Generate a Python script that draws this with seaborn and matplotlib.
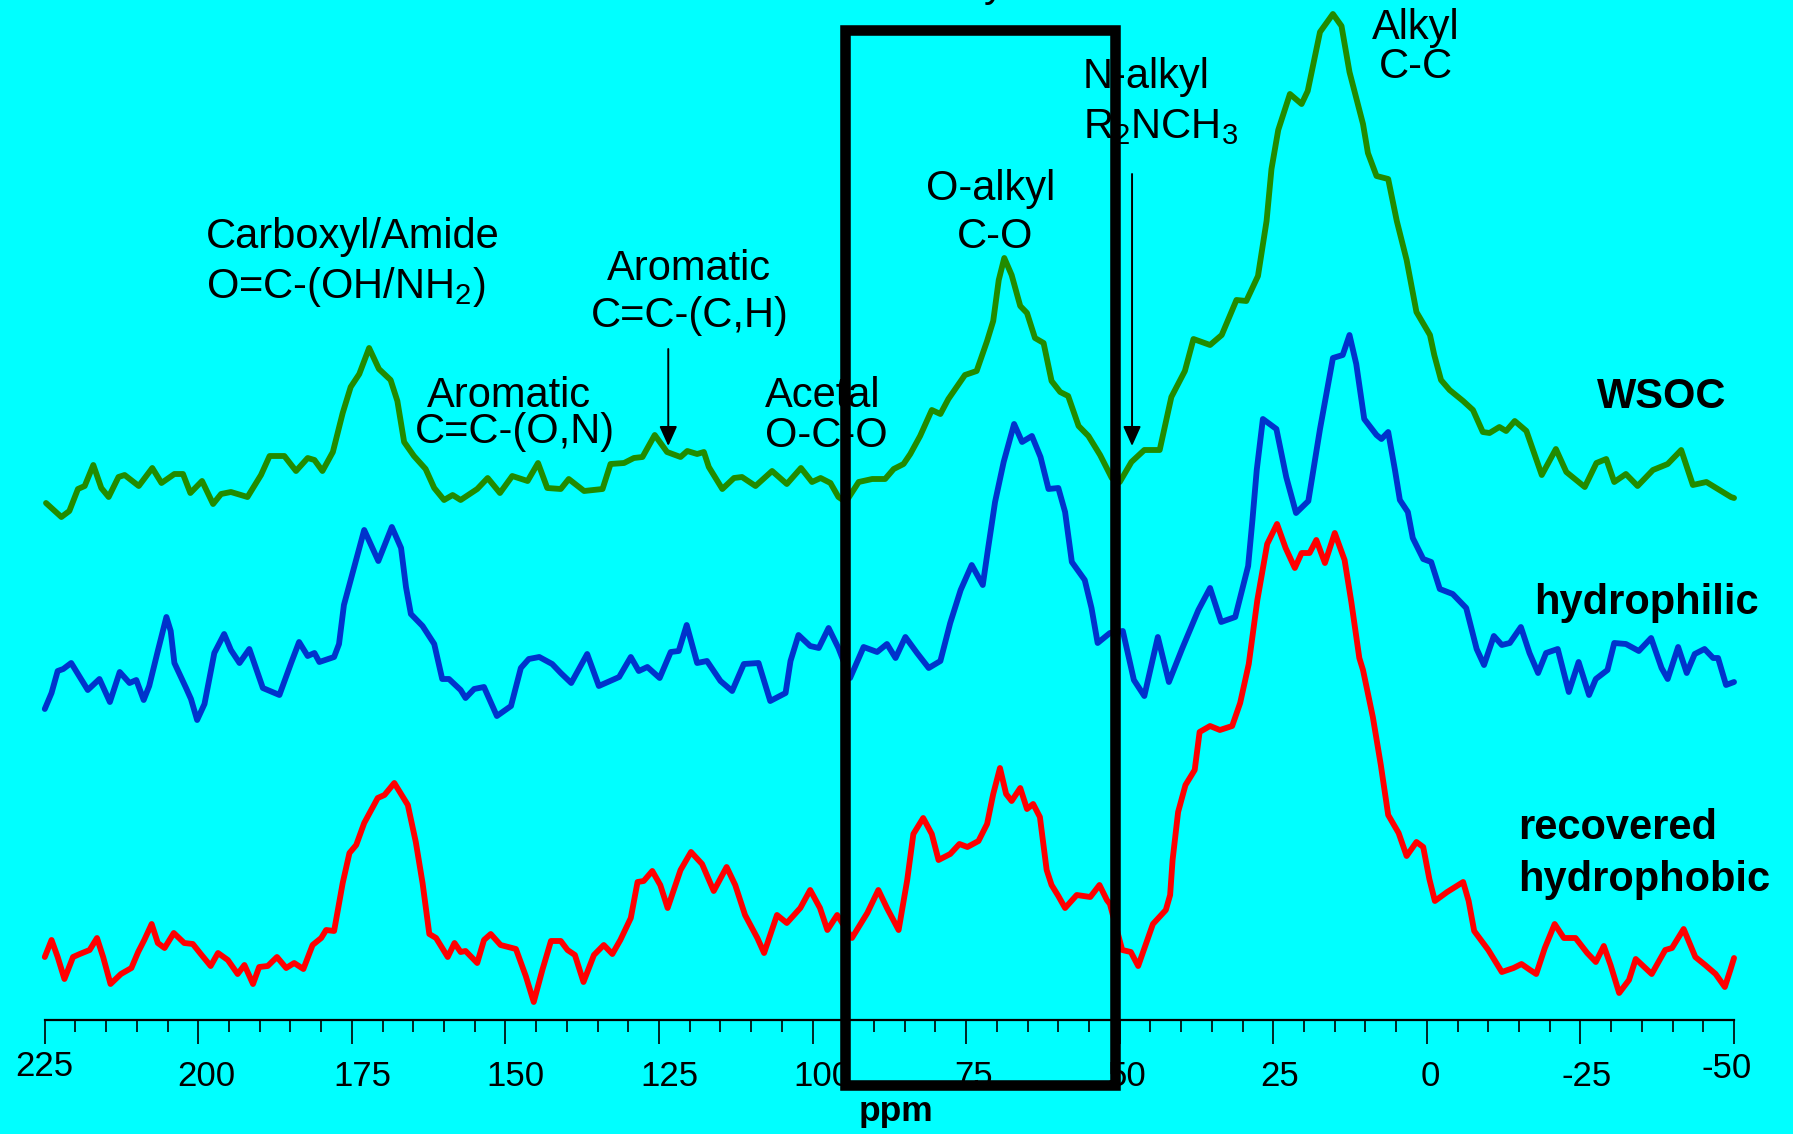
import numpy as np
import pandas as pd
import matplotlib
matplotlib.use("Agg")
import matplotlib.pyplot as plt
from matplotlib.patches import Rectangle
from matplotlib.transforms import ScaledTranslation
import seaborn as sns

# ---------------- data (ppm, displayed intensity incl. stacking offset) -------------
wsoc_ppm = [224.8, 222.3, 221.0, 219.6, 218.5, 217.1, 215.8, 214.6, 213.0, 212.0, 209.7, 207.5, 206.0,
            203.9, 202.5, 201.3, 199.4, 197.6, 196.3, 194.7, 192.0, 189.8, 188.4, 186.0, 184.1, 182.2,
            181.1, 179.8, 178.1, 176.5, 175.2, 173.8, 172.2, 170.6, 168.7, 167.6, 166.5, 164.9, 163.0,
            161.6, 160.0, 158.6, 157.3, 154.6, 152.9, 150.9, 148.9, 146.4, 144.7, 143.2, 141.0, 139.7,
            137.2, 134.2, 132.9, 130.7, 129.1, 127.7, 125.7, 123.7, 121.5, 120.4, 118.8, 117.7, 116.9,
            114.7, 112.8, 111.5, 109.3, 106.6, 104.2, 101.9, 100.1, 98.7, 97.1, 95.8, 94.6, 92.5, 90.3,
            88.2, 86.8, 85.2, 84.1, 82.5, 80.6, 79.2, 77.9, 76.2, 75.2, 73.3, 71.6, 70.6, 69.7, 68.8,
            67.6, 66.2, 65.1, 63.8, 62.4, 61.1, 59.7, 58.4, 56.7, 55.1, 53.2, 51.3, 50.0, 48.1, 46.0,
            43.5, 41.6, 39.4, 38.0, 35.3, 33.4, 31.0, 29.4, 27.5, 26.1, 25.3, 24.2, 22.3, 20.4, 19.4,
            17.4, 15.3, 13.9, 12.6, 10.4, 9.6, 8.2, 6.3, 4.9, 3.3, 1.7, -0.5, -1.2, -2.3, -3.7, -5.9,
            -7.5, -9.1, -10.2, -11.8, -12.9, -14.3, -16.2, -18.7, -21.0, -22.7, -25.7, -27.6, -29.2,
            -30.5, -32.4, -34.3, -36.8, -39.2, -41.4, -43.3, -45.5, -47.1, -49.5, -50.0]
wsoc_val = [517, 503, 509, 531, 534, 555, 532, 523, 543, 545, 534, 552, 537,
            546, 546, 527, 539, 516, 526, 528, 523, 545, 564, 564, 549, 562,
            560, 549, 568, 607, 633, 646, 672, 651, 640, 619, 578, 564, 551,
            532, 520, 525, 520, 531, 542, 527, 544, 539, 557, 532, 531, 541,
            529, 531, 556, 557, 562, 563, 585, 568, 563, 569, 566, 568, 553,
            531, 542, 543, 534, 549, 536, 552, 538, 542, 537, 523, 518, 538, 541,
            541, 551, 556, 566, 584, 610, 606, 621, 636, 645, 649, 679, 699, 740, 762,
            745, 714, 707, 682, 677, 639, 628, 624, 594, 584, 565, 542, 538, 558, 570,
            570, 623, 649, 681, 675, 685, 720, 719, 744, 799, 851, 890, 926, 916, 929,
            988, 1006, 994, 948, 896, 867, 844, 841, 799, 760, 708, 685, 665, 640, 630, 619,
            610, 588, 587, 593, 589, 599, 589, 545, 571, 548, 533, 557, 561,
            538, 546, 534, 550, 556, 570, 535, 538, 532, 523, 522]

hphil_ppm = [225.0, 223.9, 222.9, 222.0, 220.7, 219.1, 218.0, 216.1, 214.4, 212.8, 211.2, 210.1, 208.9,
             208.0, 206.6, 205.2, 204.5, 203.9, 202.0, 201.2, 200.2, 199.0, 197.4, 195.8, 194.7, 193.3,
             191.7, 189.5, 186.8, 184.9, 183.6, 182.2, 181.1, 180.3, 177.9, 177.1, 176.3, 175.2, 173.0,
             170.7, 168.5, 167.0, 166.2, 165.4, 163.5, 161.6, 160.3, 159.2, 157.3, 156.5, 155.1, 153.5,
             151.4, 149.1, 147.5, 146.2, 144.5, 142.4, 141.0, 139.3, 136.7, 134.8, 131.5, 129.6, 128.3,
             126.9, 124.9, 123.1, 121.8, 120.5, 118.8, 117.2, 115.0, 113.1, 111.2, 108.8, 106.9, 104.4,
             103.6, 102.3, 100.4, 99.0, 97.4, 95.8, 93.9, 91.7, 89.5, 87.9, 86.5, 84.9, 83.0, 81.1, 79.2,
             77.6, 75.9, 74.1, 72.3, 71.4, 70.3, 68.9, 67.2, 65.9, 64.3, 62.9, 61.6, 60.0, 58.9, 57.8,
             55.7, 54.6, 53.6, 51.6, 49.5, 47.7, 46.0, 43.8, 42.0, 39.8, 37.2, 35.3, 33.5, 31.2, 29.1,
             28.4, 27.7, 26.7, 24.5, 22.9, 21.3, 19.3, 17.4, 15.3, 13.7, 12.6, 11.5, 10.2, 8.2, 7.4, 6.3,
             5.2, 4.4, 3.1, 2.3, 0.6, -0.7, -2.1, -4.2, -6.4, -8.1, -9.3, -10.9, -12.2, -13.5, -15.3,
             -16.7, -18.1, -19.4, -21.3, -23.1, -24.7, -26.4, -27.5, -29.4, -30.5, -32.4, -34.5, -36.5,
             -38.2, -39.2, -40.9, -42.3, -43.6, -45.2, -46.6, -47.4, -48.7, -50.0]
hphil_val = [311, 327, 349, 351, 357, 341, 330, 341, 318, 348, 337, 340, 320,
             334, 369, 403, 389, 357, 332, 321, 300, 316, 367, 386, 370, 357,
             371, 332, 325, 357, 378, 364, 367, 358, 363, 376, 415, 440, 490,
             459, 493, 472, 433, 406, 394, 376, 341, 341, 330, 322, 331, 333,
             304, 314, 352, 361, 363, 356, 347, 337, 366, 334, 343, 363, 349,
             353, 342, 368, 369, 395, 357, 359, 339, 329, 356, 357, 319, 327,
             359, 385, 374, 372, 392, 372, 342, 373, 368, 376, 362, 383, 367, 352, 359,
             397, 430, 455, 435, 473, 518, 558, 596, 578, 584, 563, 531, 532, 508, 458,
             440, 412, 377, 387, 389, 340, 324, 383, 338, 372, 410, 432, 398, 403, 454,
             500, 550, 601, 591, 543, 507, 519, 591, 662, 665, 685, 656, 601, 585, 581, 588,
             550, 520, 508, 482, 461, 458, 431, 426, 412, 371, 355, 384, 375, 377, 393,
             367, 347, 367, 371, 328, 358, 325, 341, 350, 377, 376, 369, 382,
             352, 341, 373, 347, 366, 371, 362, 362, 335, 338]

hphob_ppm = [225.0, 223.9, 222.9, 221.8, 220.4, 219.3, 217.7, 216.5, 215.5, 214.3, 212.6, 210.9, 209.8,
             208.8, 207.6, 206.6, 205.5, 204.0, 202.3, 200.9, 199.6, 198.0, 196.8, 195.2, 193.6, 192.5,
             191.1, 190.1, 188.7, 187.2, 185.7, 184.4, 182.9, 181.4, 180.0, 179.2, 177.9, 176.5, 175.4,
             174.3, 173.0, 170.8, 169.7, 168.1, 165.9, 164.6, 163.5, 162.4, 161.3, 159.4, 158.3, 157.3,
             156.5, 154.6, 153.5, 152.4, 150.8, 148.3, 146.7, 145.4, 144.0, 142.6, 141.0, 139.9, 138.7,
             137.3, 135.6, 134.0, 132.6, 131.3, 129.6, 128.5, 127.5, 126.1, 124.8, 123.6, 121.5, 119.8,
             118.0, 116.1, 114.0, 112.6, 111.0, 109.0, 107.9, 105.8, 104.2, 102.0, 100.4, 98.8, 97.6,
             96.0, 93.6, 91.1, 89.3, 87.9, 86.0, 84.6, 83.6, 82.0, 80.6, 79.5, 77.6, 76.1, 74.8, 73.0,
             71.6, 70.6, 69.5, 68.5, 67.6, 66.2, 65.1, 64.1, 63.0, 61.9, 61.1, 60.0, 58.9, 57.0, 54.8,
             53.3, 52.1, 51.6, 49.6, 48.2, 47.0, 44.6, 42.5, 41.8, 41.4, 40.5, 39.3, 37.8, 37.0, 35.3,
             33.7, 31.7, 30.4, 29.0, 27.6, 26.0, 24.4, 23.0, 21.5, 20.4, 19.1, 18.0, 16.6, 15.0, 13.4,
             12.3, 11.0, 10.4, 8.8, 7.5, 6.3, 4.6, 3.3, 1.7, 0.6, -0.4, -1.3, -3.3, -5.9, -6.8, -7.7,
             -10.0, -12.2, -14.1, -15.4, -16.8, -17.8, -19.2, -20.8, -22.3, -24.2, -26.1, -27.5, -28.8,
             -29.9, -31.3, -32.9, -34.0, -36.6, -38.8, -39.9, -41.8, -43.7, -45.3, -47.0, -48.5, -49.4,
             -50.0]
hphob_val = [63, 80, 63, 41, 63, 66, 70, 82, 63, 36, 46, 52, 68,
             80, 96, 77, 72, 87, 77, 76, 66, 54, 67, 60, 46, 55,
             36, 53, 54, 63, 52, 57, 51, 75, 82, 90, 89, 137, 167,
             175, 197, 222, 225, 237, 215, 178, 137, 86, 82, 63, 77, 68,
             69, 57, 80, 86, 75, 71, 44, 18, 50, 79, 79, 70, 65,
             38, 65, 75, 66, 80, 102, 138, 139, 149, 135, 112, 150, 168,
             156, 129, 153, 135, 105, 82, 67, 105, 97, 112, 130, 112, 90,
             105, 82, 107, 130, 112, 90, 140, 186, 202, 186, 160, 166, 176, 173, 179,
             196, 226, 252, 226, 219, 232, 211, 216, 203, 150, 135, 124, 112, 125, 123,
             135, 120, 116, 70, 68, 54, 96, 110, 125, 160, 208, 235, 250, 288, 294,
             290, 294, 317, 356, 420, 476, 496, 472, 452, 467, 467, 480, 457, 487, 460,
             418, 362, 350, 303, 255, 205, 187, 164, 178, 173, 141, 119, 128, 138, 119, 89,
             70, 48, 52, 56, 50, 46, 72, 96, 82, 82, 67, 58, 74,
             55, 27, 40, 61, 46, 70, 72, 91, 63, 55, 46, 33, 50,
             62]

series_names = ["WSOC", "hydrophilic", "recovered\nhydrophobic"]
series_colors = ["#228b00", "#0033cc", "#ff0000"]

tick_values = [225, 200, 175, 150, 125, 100, 75, 50, 25, 0, -25, -50]
tick_labels = ["225", "200", "175", "150", "125", "100", "75", "50", "25", "0", "-25", "-50"]

# region annotations (ppm positions)
box_ppm = (94.8, 50.7)
arrow_ppm = [123.5, 48.0]

# ---------------- styling ----------------
sns.set_theme(style="white")
plt.rcParams["font.family"] = ["Liberation Sans", "DejaVu Sans"]
plt.rcParams["mathtext.fontset"] = "custom"
plt.rcParams["mathtext.rm"] = "Liberation Sans"
plt.rcParams["mathtext.it"] = "Liberation Sans:italic"
plt.rcParams["mathtext.bf"] = "Liberation Sans:bold"
plt.rcParams["mathtext.default"] = "regular"

BG = "#00ffff"
fig = plt.figure(figsize=(17.93, 11.34), dpi=100, facecolor=BG)
ax = fig.add_axes([0, 0, 1, 1], facecolor=BG)

df = pd.concat([
    pd.DataFrame({"ppm": wsoc_ppm, "intensity": wsoc_val, "series": series_names[0]}),
    pd.DataFrame({"ppm": hphil_ppm, "intensity": hphil_val, "series": series_names[1]}),
    pd.DataFrame({"ppm": hphob_ppm, "intensity": hphob_val, "series": series_names[2]}),
])

sns.lineplot(data=df, x="ppm", y="intensity", hue="series", hue_order=series_names,
             palette=series_colors, linewidth=4.2, legend=False, sort=False,
             estimator=None, ax=ax)
for ln in ax.get_lines():
    ln.set_linewidth(4.2)
    ln.set_solid_joinstyle("round")
    ln.set_solid_capstyle("round")

ax.set_xlim(232.29, -59.6)
ax.set_ylim(-114, 1020)
ax.set_ylabel("")

# axis
for s in ["left", "right", "top"]:
    ax.spines[s].set_visible(False)
ax.spines["bottom"].set_position(("data", 0))
ax.spines["bottom"].set_bounds(225, -50)
ax.spines["bottom"].set_linewidth(1.6)
ax.spines["bottom"].set_color("black")
ax.set_yticks([])
ax.set_xticks(tick_values)
ax.set_xticklabels(tick_labels)
ax.set_xticks(np.arange(-50, 226, 5), minor=True)
ax.tick_params(axis="x", which="major", direction="out", length=17.3, width=1.2,
               colors="black", labelsize=25, pad=11.5, bottom=True)
ax.tick_params(axis="x", which="minor", direction="out", length=8.6, width=1.2,
               colors="black", bottom=True)
ax.set_xlabel("ppm", fontsize=25.5, fontweight="bold", color="black")
ax.xaxis.set_label_coords(0.5, (-101 + 114) / 1134)
ax.xaxis.label.set_va("baseline")

# per-label offsets (px) to mimic the reference placement
dx_px = [0, 8, 10, 10, 10, 10, 7, 7, 6, 3, 6, -7]
dy_px = [10, 0, 0, 0, 0, 0, 0, 0, 0, 0, 0, 8]
for lab, dx, dy in zip(ax.get_xticklabels(), dx_px, dy_px):
    lab.set_transform(lab.get_transform() + ScaledTranslation(dx / 100, dy / 100, fig.dpi_scale_trans))

# annotations
FS = 30
def label(x, y, s, ha="center", bold=False):
    ax.text(x, y, s, ha=ha, va="baseline", fontsize=FS,
            fontweight="bold" if bold else "normal", color="black", zorder=6)

label(198.8, 771.7, "Carboxyl/Amide", ha="left")
label(198.8, 722, "O=C-(OH/NH$_2$)", ha="left")
label(149.5, 612.7, "Aromatic")
label(148.45, 577, "C=C-(O,N)")
label(120.1, 739.6, "Aromatic")
label(120.0, 693.3, "C=C-(C,H)")
label(107.75, 612.7, "Acetal", ha="left")
label(107.75, 573.4, "O-C-O", ha="left")
label(70.96, 820, "O-alkyl")
label(70.3, 771.7, "C-O")
label(56.0, 932, "N-alkyl", ha="left")
label(56.0, 882, "R$_2$NCH$_3$", ha="left")
label(1.8, 981, "Alkyl")
label(1.85, 942, "C-C")
label(-38.2, 612.3, "WSOC", bold=True)
label(-35.8, 406, "hydrophilic", bold=True)
label(-14.8, 181, "recovered", ha="left", bold=True)
label(-14.8, 129.4, "hydrophobic", ha="left", bold=True)
label(70.5, 1024, "y")

arrow_tops = [671, 846]
arrow_tips = [574, 574]
for xp, yt, yb in zip(arrow_ppm, arrow_tops, arrow_tips):
    ax.annotate("", xy=(xp, yb), xytext=(xp, yt),
                arrowprops=dict(arrowstyle="-|>,head_length=0.6,head_width=0.27",
                                color="black", lw=1.4, shrinkA=0, shrinkB=0,
                                mutation_scale=20), zorder=6)

# highlighted region box
rect = Rectangle((box_ppm[1], -65.3), box_ppm[0] - box_ppm[1], 990.3 + 65.3,
                 fill=False, edgecolor="black", linewidth=7.6, joinstyle="miter",
                 zorder=10, clip_on=False)
ax.add_patch(rect)

fig.savefig("out.png", dpi=100, facecolor=BG)
